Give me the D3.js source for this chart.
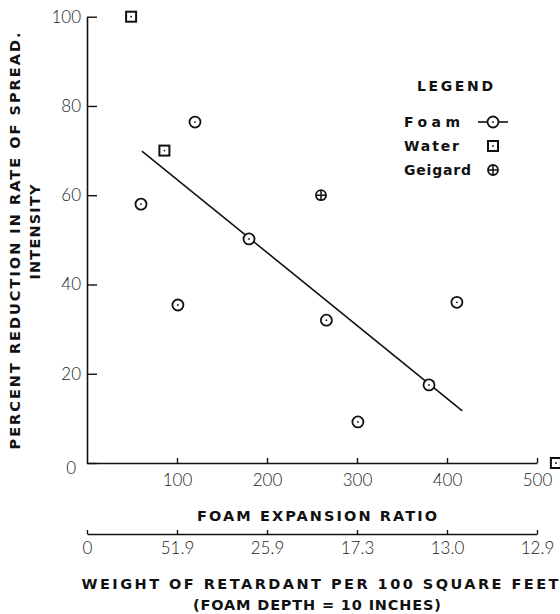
<!DOCTYPE html>
<html>
<head>
<meta charset="utf-8">
<script src="https://cdnjs.cloudflare.com/ajax/libs/d3/7.8.5/d3.min.js"></script>
<style>
  body { margin: 0; background: #fff; }
  .tick text { font-family: Lato, "Open Sans", sans-serif; font-weight: 300; font-size: 17px; fill: #222; }
  .title { font-family: "DejaVu Sans", Verdana, sans-serif; font-weight: bold; fill: #111; }
</style>
</head>
<body>
<div id="chart"></div>
<script>
// data
var foamRatio = [60, 101, 120, 180, 266, 301, 380, 411];
var foamReduction = [58, 35.4, 76.4, 50.2, 32, 9.2, 17.5, 36];
var waterRatio = [49, 86, 521];
var waterReduction = [100, 70, 0];
var geigardRatio = [260];
var geigardReduction = [60];
// fitted foam line, end points
var fitRatio = [61, 417];
var fitReduction = [69.9, 11.7];

var ratioTicks = [100, 200, 300, 400, 500];
var weightTicks = [0, 100, 200, 300, 400, 500];
var weightLabels = ["0", "51.9", "25.9", "17.3", "13.0", "12.9"];
var reductionTicks = [0, 20, 40, 60, 80, 100];

var svgWidth = 560;
var svgHeight = 614;

var svg = d3.select("#chart")
  .append("svg")
  .attr("width", svgWidth)
  .attr("height", svgHeight);

var x = d3.scaleLinear().domain([0, 500]).range([87, 537]);
var y = d3.scaleLinear().domain([0, 100]).range([463, 16.7]);

// y axis
var yAxis = svg.append("g")
  .attr("transform", "translate(" + x(0) + ",0)")
  .call(d3.axisLeft(y).tickValues(reductionTicks).tickSizeInner(-10).tickSizeOuter(0).tickPadding(6));
yAxis.select(".tick:first-of-type text").attr("dy", "0.6em").attr("x", -11);

// x axis (expansion ratio)
svg.append("g")
  .attr("transform", "translate(0," + y(0) + ")")
  .call(d3.axisBottom(x).tickValues(ratioTicks).tickSizeInner(-5).tickSizeOuter(0).tickPadding(11));

// second axis (weight of retardant)
svg.append("g")
  .attr("transform", "translate(0,534)")
  .call(d3.axisBottom(x).tickValues(weightTicks).tickFormat(function(d, i) { return weightLabels[i]; })
    .tickSizeInner(-4).tickSizeOuter(0).tickPadding(8));

svg.selectAll(".domain").attr("stroke", "#111").attr("stroke-width", 1.6);
svg.selectAll(".tick line").attr("stroke", "#111").attr("stroke-width", 1.4);

// fitted line
svg.append("line")
  .attr("x1", x(fitRatio[0])).attr("y1", y(fitReduction[0]))
  .attr("x2", x(fitRatio[1])).attr("y2", y(fitReduction[1]))
  .attr("stroke", "#111").attr("stroke-width", 1.6);

// marker helpers
function circleMark(g, cx, cy) {
  g.append("circle").attr("cx", cx).attr("cy", cy).attr("r", 5.5)
    .attr("fill", "#fff").attr("stroke", "#111").attr("stroke-width", 1.8);
  g.append("circle").attr("cx", cx).attr("cy", cy).attr("r", 0.9).attr("fill", "#111");
}
function squareMark(g, cx, cy) {
  g.append("rect").attr("x", cx - 5).attr("y", cy - 5).attr("width", 10).attr("height", 10)
    .attr("fill", "#fff").attr("stroke", "#111").attr("stroke-width", 2);
  g.append("circle").attr("cx", cx).attr("cy", cy).attr("r", 0.9).attr("fill", "#111");
}
function crossMark(g, cx, cy) {
  g.append("circle").attr("cx", cx).attr("cy", cy).attr("r", 5)
    .attr("fill", "#fff").attr("stroke", "#111").attr("stroke-width", 1.8);
  g.append("line").attr("x1", cx - 5).attr("x2", cx + 5).attr("y1", cy).attr("y2", cy)
    .attr("stroke", "#111").attr("stroke-width", 1.5);
  g.append("line").attr("x1", cx).attr("x2", cx).attr("y1", cy - 5).attr("y2", cy + 5)
    .attr("stroke", "#111").attr("stroke-width", 1.5);
}

var marks = svg.append("g");
foamRatio.forEach(function(r, i) { circleMark(marks, x(r), y(foamReduction[i])); });
waterRatio.forEach(function(r, i) { squareMark(marks, x(r), y(waterReduction[i])); });
geigardRatio.forEach(function(r, i) { crossMark(marks, x(r), y(geigardReduction[i])); });

// legend
var legend = svg.append("g");
legend.append("text").attr("class", "title").attr("x", 417).attr("y", 91)
  .attr("font-size", 14).attr("textLength", 76).attr("lengthAdjust", "spacing").text("LEGEND");
var legendNames = ["Foam", "Water", "Geigard"];
var legendWidths = [56, 55, 67];
var legendY = [122, 146, 170];
legendNames.forEach(function(n, i) {
  legend.append("text").attr("class", "title").attr("x", 404).attr("y", legendY[i] + 5)
    .attr("font-size", 14).attr("textLength", legendWidths[i]).attr("lengthAdjust", "spacing").text(n);
});
legend.append("line").attr("x1", 478).attr("x2", 508).attr("y1", legendY[0]).attr("y2", legendY[0])
  .attr("stroke", "#111").attr("stroke-width", 1.6);
circleMark(legend, 493, legendY[0]);
squareMark(legend, 493, legendY[1]);
crossMark(legend, 493, legendY[2]);

// axis titles
svg.append("text").attr("class", "title").attr("x", 317).attr("y", 521).attr("text-anchor", "middle")
  .attr("font-size", 14.5).attr("textLength", 240).attr("lengthAdjust", "spacing").text("FOAM EXPANSION RATIO");
svg.append("text").attr("class", "title").attr("x", 320).attr("y", 589).attr("text-anchor", "middle")
  .attr("font-size", 14.5).attr("textLength", 477).attr("lengthAdjust", "spacing").text("WEIGHT OF RETARDANT PER 100 SQUARE FEET");
svg.append("text").attr("class", "title").attr("x", 317).attr("y", 610).attr("text-anchor", "middle")
  .attr("font-size", 14.5).attr("textLength", 248).attr("lengthAdjust", "spacing").text("(FOAM DEPTH = 10 INCHES)");

svg.append("text").attr("class", "title")
  .attr("transform", "translate(20,241) rotate(-90)").attr("text-anchor", "middle")
  .attr("font-size", 14.5).attr("textLength", 417).attr("lengthAdjust", "spacing")
  .text("PERCENT REDUCTION IN RATE OF SPREAD.");
svg.append("text").attr("class", "title")
  .attr("transform", "translate(40,232) rotate(-90)").attr("text-anchor", "middle")
  .attr("font-size", 14.5).attr("textLength", 95).attr("lengthAdjust", "spacing")
  .text("INTENSITY");
</script>
</body>
</html>
